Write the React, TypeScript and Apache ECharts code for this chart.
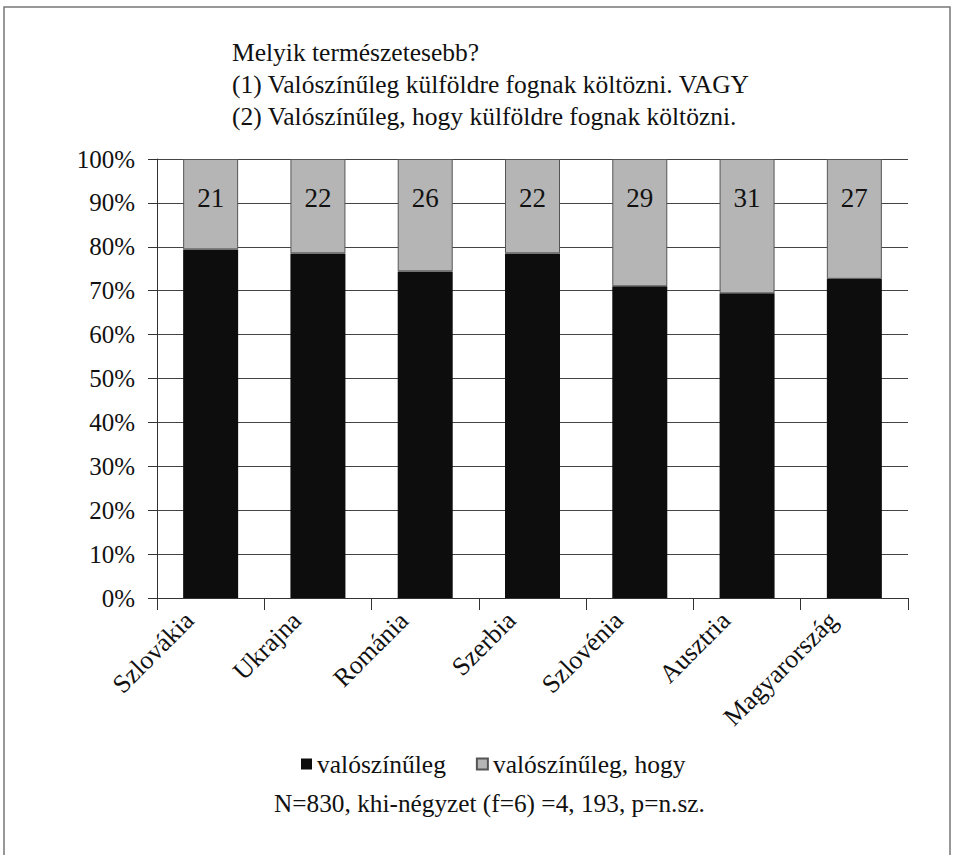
import React, { useEffect, useRef } from "react";
import * as echarts from "echarts";

const categories = ["Szlovákia", "Ukrajna", "Románia", "Szerbia", "Szlovénia", "Ausztria", "Magyarország"];
const likelyValues = [79.4, 78.5, 74.4, 78.5, 71.0, 69.4, 72.7];
const likelyThatValues = [20.6, 21.5, 25.6, 21.5, 29.0, 30.6, 27.3];
const seriesNames = ["valószínűleg", "valószínűleg, hogy"];
const titleLines = [
  "Melyik természetesebb?",
  "(1) Valószínűleg külföldre fognak költözni. VAGY",
  "(2) Valószínűleg, hogy külföldre fognak költözni.",
];
const footerText = "N=830, khi-négyzet (f=6) =4, 193, p=n.sz.";

const FONT = "Liberation Serif, Times New Roman, DejaVu Serif, serif";

export default function App() {
  const ref = useRef<HTMLDivElement>(null);
  useEffect(() => {
    if (!ref.current) return;
    const chart = echarts.init(ref.current, null, { renderer: "svg" });
    chart.setOption({
      animation: false,
      backgroundColor: "#ffffff",
      textStyle: { fontFamily: FONT, color: "#111" },
      grid: { left: 157, right: 52, top: 159, bottom: 257 },
      legend: {
        left: 296,
        top: 746,
        itemWidth: 11,
        itemHeight: 11,
        itemGap: 30,
        icon: "rect",
        textStyle: { fontFamily: FONT, fontSize: 25.5, color: "#111" },
        data: seriesNames,
      },
      xAxis: {
        type: "category",
        data: categories,
        axisLine: { show: true, lineStyle: { color: "#333", width: 1 } },
        axisTick: { show: true, length: 12, lineStyle: { color: "#333" } },
        axisLabel: {
          rotate: 45,
          margin: -3,
          padding: [0, 30, 0, 0],
          fontFamily: FONT,
          fontSize: 26,
          color: "#111",
          interval: 0,
        },
      },
      yAxis: {
        type: "value",
        min: 0,
        max: 100,
        interval: 10,
        axisLine: { show: true, lineStyle: { color: "#333", width: 1 } },
        axisTick: { show: true, length: 9, lineStyle: { color: "#333" } },
        splitLine: { show: true, lineStyle: { color: "#444", width: 1 } },
        axisLabel: {
          formatter: "{value}%",
          margin: 22,
          fontFamily: FONT,
          fontSize: 25,
          color: "#111",
        },
      },
      series: [
        {
          name: seriesNames[0],
          type: "bar",
          stack: "total",
          barWidth: 55,
          data: likelyValues,
          itemStyle: { color: "#0d0d0d" },
        },
        {
          name: seriesNames[1],
          type: "bar",
          stack: "total",
          barWidth: 55,
          data: likelyThatValues,
          itemStyle: { color: "#b5b5b5", borderColor: "#555", borderWidth: 1 },
          label: {
            show: true,
            position: "insideTop",
            distance: 25,
            formatter: (p: any) => String(Math.round(p.value)),
            fontFamily: FONT,
            fontSize: 27,
            color: "#111",
          },
        },
      ],
      graphic: [
        {
          type: "rect",
          shape: { x: 4, y: 7, width: 946, height: 900 },
          style: { fill: "none", stroke: "#777", lineWidth: 1.5 },
          silent: true,
        },
        ...titleLines.map((t, i) => ({
          type: "text",
          left: 232,
          top: 39 + i * 32,
          style: { text: t, fontFamily: FONT, fontSize: 25.5, fill: "#111" },
        })),
        {
          type: "text",
          left: 274,
          top: 790,
          style: { text: footerText, fontFamily: FONT, fontSize: 25.3, fill: "#111" },
        },
      ],
    });
    return () => chart.dispose();
  }, []);
  return (
    <div
      ref={ref}
      style={{ position: "fixed", left: 0, top: 0, width: 960, height: 855, fontFamily: "serif" }}
    />
  );
}
